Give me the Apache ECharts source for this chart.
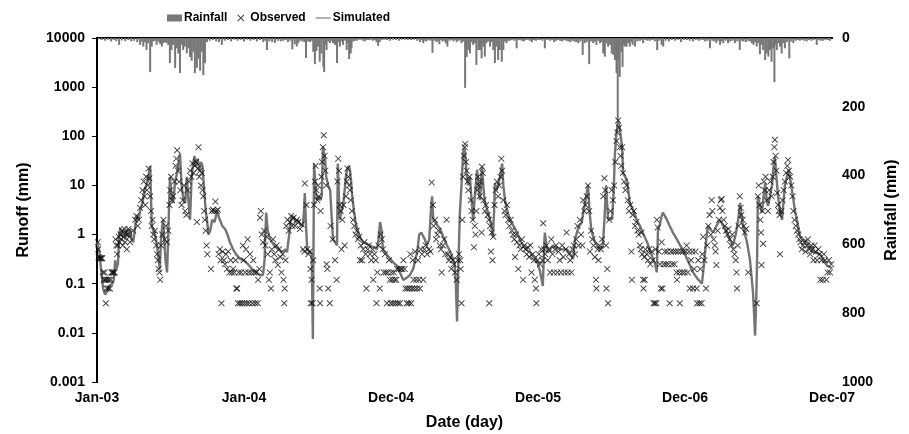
<!DOCTYPE html>
<html><head><meta charset="utf-8">
<script src="https://cdn.jsdelivr.net/npm/echarts/dist/echarts.min.js"></script>
<style>html,body{margin:0;padding:0;background:#fff}#c{width:909px;height:434px}</style>
</head><body><div id="c"></div>
<script>
const dateTickLabels = ['Jan-03','Jan-04','Dec-04','Dec-05','Dec-06','Dec-07'];
const runoffTicks = [0.001,0.01,0.1,1,10,100,1000,10000];
const runoffTickLabels = ['0.001','0.01','0.1','1','10','100','1000','10000'];
const rainTickLabels = ['0','200','400','600','800','1000'];
const seriesNames = ['Rainfall','Observed','Simulated'];

// [day index since 1 Jan 2003, rainfall mm]
const rainfall = [[5,4],[12,6],[20,8],[28,5],[35,10],[42,6],[48,9],[55,20],[62,7],[70,9],[78,6],[85,10],[92,8],[100,12],[107,20],[111,10],[115,25],[119,12],[123,35],[127,15],[132,99],[136,25],[140,10],[144,8],[148,20],[153,12],[157,18],[161,25],[165,15],[169,12],[173,15],[177,20],[181,73],[185,35],[189,20],[194,87],[198,30],[202,45],[206,102],[210,20],[214,35],[218,25],[223,45],[227,30],[231,55],[235,66],[239,40],[243,102],[248,87],[252,60],[256,95],[260,40],[264,108],[268,73],[273,12],[280,8],[288,6],[296,10],[303,12],[310,20],[317,8],[325,6],[333,10],[341,5],[349,8],[357,6],[365,10],[373,5],[381,8],[389,6],[397,10],[405,6],[413,12],[418,8],[422,35],[428,10],[435,12],[442,14],[449,8],[456,10],[462,8],[468,6],[474,12],[480,8],[485,33],[491,18],[496,25],[500,15],[505,8],[510,10],[515,12],[519,58],[524,10],[529,12],[533,8],[537,40],[541,76],[545,38],[549,25],[553,69],[557,45],[562,84],[564,99],[567,20],[570,35],[574,10],[578,15],[582,8],[586,15],[591,20],[596,73],[599,12],[603,25],[607,10],[611,20],[615,8],[620,35],[623,15],[626,61],[630,45],[632,30],[636,10],[640,8],[645,8],[650,5],[655,5],[660,8],[665,10],[670,6],[675,6],[680,5],[685,8],[690,6],[694,12],[698,23],[702,12],[708,6],[714,5],[720,6],[727,8],[735,5],[742,6],[750,8],[757,5],[765,5],[772,6],[780,6],[787,5],[795,8],[802,12],[806,6],[810,15],[814,8],[818,10],[824,6],[828,8],[833,43],[838,8],[843,12],[846,8],[850,18],[854,6],[858,10],[862,8],[866,15],[870,25],[875,8],[880,6],[885,10],[889,6],[893,12],[898,8],[902,6],[905,15],[909,10],[914,145],[918,55],[922,35],[926,45],[930,12],[934,20],[938,15],[942,78],[947,35],[951,35],[955,59],[959,25],[963,54],[967,15],[971,10],[976,25],[980,12],[984,35],[988,73],[992,25],[996,64],[1000,35],[1005,69],[1009,35],[1013,10],[1017,15],[1021,8],[1025,8],[1030,6],[1036,8],[1042,30],[1046,6],[1050,6],[1055,8],[1060,10],[1065,6],[1070,5],[1075,8],[1080,12],[1085,6],[1090,8],[1095,5],[1100,6],[1106,8],[1112,30],[1118,6],[1125,8],[1130,6],[1135,12],[1140,8],[1145,6],[1150,8],[1155,10],[1160,6],[1165,8],[1170,10],[1175,12],[1180,8],[1185,10],[1190,12],[1195,15],[1200,10],[1206,49],[1211,15],[1216,12],[1222,76],[1227,10],[1232,15],[1236,10],[1240,20],[1245,8],[1249,15],[1253,12],[1257,45],[1261,54],[1265,15],[1269,25],[1274,20],[1278,45],[1282,49],[1286,64],[1290,102],[1293,238],[1296,60],[1298,113],[1302,40],[1305,84],[1308,20],[1311,25],[1315,25],[1319,15],[1323,25],[1327,12],[1330,20],[1336,25],[1342,10],[1348,8],[1352,6],[1356,15],[1362,6],[1367,8],[1373,8],[1379,6],[1385,10],[1391,35],[1396,8],[1402,20],[1406,25],[1412,8],[1420,10],[1427,6],[1435,8],[1442,6],[1450,12],[1457,6],[1465,6],[1472,8],[1480,10],[1487,6],[1495,8],[1500,5],[1505,6],[1510,10],[1516,8],[1522,30],[1528,8],[1533,10],[1538,15],[1543,8],[1547,20],[1551,10],[1555,15],[1561,8],[1567,15],[1572,10],[1578,8],[1584,15],[1590,10],[1596,35],[1601,8],[1605,10],[1611,12],[1616,8],[1621,10],[1626,15],[1630,20],[1634,12],[1638,25],[1642,15],[1646,47],[1650,20],[1654,35],[1659,64],[1663,45],[1667,54],[1671,35],[1675,69],[1679,30],[1682,128],[1685,20],[1688,35],[1692,15],[1696,25],[1700,45],[1704,15],[1708,30],[1713,12],[1719,59],[1724,10],[1729,15],[1735,8],[1740,6],[1745,8],[1750,6],[1756,8],[1762,10],[1768,6],[1774,8],[1780,6],[1787,20],[1792,6],[1797,8],[1803,8],[1809,6],[1815,6],[1820,8]];

// [day, observed runoff mm]
const observed = [[2,0.7],[3,0.5],[4,0.35],[5,0.33],[7,0.33],[9,0.33],[11,0.33],[13,0.33],[15,0.17],[17,0.12],[19,0.17],[20,0.12],[22,0.04],[23,0.12],[24,0.08],[26,0.12],[28,0.08],[30,0.12],[32,0.08],[34,0.12],[36,0.17],[38,0.17],[40,0.17],[42,0.17],[44,0.17],[46,0.8],[48,0.6],[50,0.4],[52,0.6],[54,0.9],[56,0.7],[58,1.0],[60,0.8],[62,1.2],[64,0.6],[66,0.9],[68,1.3],[70,0.7],[72,1.1],[74,0.5],[76,1.0],[78,1.3],[80,0.9],[82,0.7],[90,1.2],[95,2.0],[98,2.4],[101,1.5],[104,2.0],[107,3.5],[110,5],[113,8],[116,12],[118,6],[120,4],[122,15],[124,8],[126,10],[128,22],[130,14],[132,6],[134,3],[136,1.5],[138,2.0],[140,1.0],[142,0.8],[144,1.2],[147,0.6],[149,0.4],[151,0.3],[153,0.2],[155,0.17],[157,0.12],[159,0.6],[162,1.0],[165,2.0],[168,0.8],[171,1.5],[174,0.7],[177,1.2],[180,4],[182,8],[184,15],[186,5],[189,6],[192,12],[195,25],[197,35],[199,52],[201,20],[204,12],[207,8],[210,4],[213,5],[216,10],[219,3],[222,2.5],[225,8],[228,12],[231,20],[234,15],[237,28],[240,18],[243,25],[246,30],[248,1.8],[250,22],[252,60],[254,15],[256,20],[258,10],[260,18],[262,8],[264,6],[266,3],[268,2],[270,1.2],[272,0.6],[274,0.4],[283,0.2],[285,3.0],[288,3.2],[291,3.0],[294,4.7],[297,3.0],[300,3.2],[302,0.4],[305,0.5],[307,0.3],[309,0.04],[312,0.45],[315,0.3],[318,0.25],[320,0.4],[323,0.2],[326,0.45],[329,0.17],[332,0.3],[335,0.17],[338,0.2],[341,0.17],[344,0.3],[346,0.08],[348,0.08],[350,0.04],[352,0.17],[355,0.04],[358,0.17],[360,0.04],[362,0.6],[364,0.3],[366,0.04],[368,0.17],[370,0.5],[372,0.04],[374,0.8],[376,0.17],[378,0.04],[380,0.4],[383,0.17],[386,0.04],[388,0.3],[390,0.17],[393,0.04],[396,0.17],[399,0.04],[400,0.12],[403,0.2],[405,2.2],[407,3.0],[409,1.0],[412,0.7],[415,1.2],[418,0.6],[421,0.9],[424,0.4],[427,0.12],[429,0.17],[432,0.08],[434,0.5],[437,0.8],[440,0.4],[443,0.3],[446,0.6],[449,0.24],[452,0.5],[455,0.35],[458,0.17],[461,0.4],[463,0.12],[465,0.04],[466,0.08],[468,0.3],[470,1.5],[473,2.0],[476,1.2],[479,1.8],[482,2.4],[485,1.5],[488,2.2],[492,1.5],[496,2.0],[500,1.8],[504,1.3],[508,1.6],[512,0.5],[515,0.45],[516,11],[520,4],[522,0.5],[525,0.4],[528,0.45],[530,0.2],[531,0.04],[533,0.12],[535,0.04],[537,0.3],[539,4],[541,12],[543,25],[545,8],[547,5],[549,10],[551,6],[553,0.08],[554,0.04],[555,3],[557,15],[559,30],[561,60],[563,105],[565,40],[567,20],[569,10],[570,0.25],[572,0.2],[574,0.08],[578,0.04],[580,1.5],[585,0.8],[591,0.3],[595,0.12],[597,12],[599,35],[601,20],[603,4],[605,3],[607,0.5],[609,2],[612,4],[615,0.6],[618,6],[620,12],[622,22],[624,15],[626,10],[628,8],[630,5],[633,3],[636,2],[639,1.5],[642,1.0],[645,1.2],[648,0.8],[651,0.9],[653,0.3],[655,0.6],[658,0.3],[661,0.5],[664,0.7],[667,0.4],[669,0.08],[672,0.5],[675,0.6],[678,0.4],[681,0.3],[684,0.5],[686,0.12],[689,0.4],[692,0.3],[694,0.04],[696,0.17],[699,0.6],[702,0.08],[704,1.0],[707,0.8],[710,0.5],[712,0.17],[715,0.4],[717,0.17],[720,0.04],[722,0.17],[725,0.3],[727,0.12],[729,0.04],[731,0.17],[733,0.12],[735,0.04],[737,0.17],[739,0.12],[741,0.04],[743,0.12],[745,0.2],[747,0.04],[750,0.2],[752,0.04],[755,0.2],[758,0.2],[761,0.3],[764,0.2],[766,0.08],[769,0.04],[771,0.08],[774,0.04],[776,0.08],[778,0.4],[780,0.04],[782,0.08],[784,0.3],[786,0.12],[788,0.08],[790,0.45],[793,0.12],[795,0.08],[797,0.3],[800,0.12],[802,0.08],[804,0.5],[807,0.4],[810,0.12],[813,0.5],[816,0.6],[820,0.4],[824,0.5],[828,0.45],[831,11.5],[834,4],[836,1.5],[839,2.0],[842,0.8],[845,1.0],[848,1.2],[851,0.6],[854,0.5],[856,0.17],[859,0.6],[862,0.8],[865,0.4],[868,2.0],[871,0.4],[874,0.3],[877,0.35],[880,0.2],[883,0.3],[886,0.25],[889,0.17],[893,0.12],[896,0.3],[899,0.4],[902,0.3],[903,0.2],[905,0.04],[907,2],[909,15],[911,40],[913,60],[914,70],[916,30],[918,20],[920,12],[922,8],[925,15],[928,5],[930,3],[933,2],[936,0.55],[938,1.5],[940,1.0],[942,3],[944,8],[946,15],[948,10],[950,6],[952,12],[955,1.1],[956,24],[958,18],[960,5],[963,3],[966,4],[970,2.5],[973,2],[974,0.04],[976,1.5],[978,0.45],[980,1.1],[982,0.3],[984,0.9],[987,4],[990,8],[993,12],[996,6],[999,10],[1002,15],[1004,35],[1006,20],[1009,5],[1012,3],[1015,2.5],[1018,4],[1021,2],[1024,1.5],[1027,2.0],[1030,1.2],[1033,1.0],[1036,0.8],[1038,0.35],[1040,1.0],[1043,0.7],[1046,0.2],[1049,0.6],[1052,0.5],[1055,0.8],[1058,0.12],[1061,0.6],[1064,0.5],[1067,0.4],[1070,0.55],[1073,0.35],[1076,0.6],[1079,0.17],[1082,0.4],[1085,0.3],[1087,0.12],[1090,0.08],[1091,0.04],[1094,0.3],[1097,0.4],[1100,0.25],[1103,0.5],[1106,0.3],[1108,1.7],[1110,0.5],[1113,0.4],[1116,0.6],[1119,0.3],[1122,0.5],[1125,0.17],[1128,0.8],[1131,0.4],[1134,0.17],[1137,0.5],[1140,0.6],[1143,0.17],[1146,0.45],[1149,0.3],[1152,0.17],[1155,0.6],[1158,0.35],[1161,0.17],[1164,0.5],[1166,1.1],[1169,0.17],[1172,0.4],[1175,0.3],[1178,0.17],[1181,0.5],[1184,0.6],[1187,0.4],[1190,0.8],[1193,1.5],[1196,0.6],[1199,2],[1202,1.0],[1205,0.6],[1207,5],[1210,3],[1213,4],[1216,6],[1219,10],[1222,3],[1224,0.45],[1227,1.2],[1230,0.8],[1233,0.6],[1236,0.35],[1239,0.12],[1240,0.08],[1243,0.5],[1245,0.3],[1248,0.6],[1251,0.5],[1254,0.8],[1257,6],[1260,14],[1262,8],[1264,0.6],[1265,0.08],[1267,0.2],[1269,0.04],[1272,2],[1275,3],[1278,8],[1281,5],[1284,10],[1287,30],[1290,80],[1292,120],[1294,210],[1296,150],[1298,60],[1300,40],[1302,25],[1304,60],[1306,18],[1309,12],[1312,8],[1315,10],[1318,5],[1321,3],[1324,4],[1327,0.45],[1328,0.12],[1330,2.5],[1333,3],[1336,1.5],[1339,1.8],[1342,1.2],[1345,1.0],[1348,0.6],[1350,0.5],[1352,1.1],[1354,0.4],[1356,0.12],[1357,0.08],[1359,0.35],[1360,0.12],[1362,0.5],[1365,0.4],[1368,0.3],[1371,0.5],[1374,0.25],[1377,0.45],[1380,0.3],[1382,0.04],[1385,0.04],[1387,0.5],[1389,0.04],[1390,2],[1392,1.4],[1395,0.45],[1398,0.25],[1400,0.08],[1402,0.7],[1404,0.08],[1407,0.25],[1410,0.45],[1413,0.25],[1416,0.45],[1419,0.25],[1422,0.04],[1425,0.45],[1428,0.25],[1431,0.45],[1434,0.25],[1437,0.45],[1439,0.17],[1440,0.12],[1443,0.45],[1446,0.17],[1447,0.04],[1450,0.45],[1453,0.17],[1456,0.45],[1459,0.17],[1462,0.45],[1464,0.6],[1467,0.17],[1470,0.45],[1472,0.08],[1475,0.3],[1478,0.45],[1480,0.08],[1483,0.2],[1486,0.45],[1489,0.08],[1490,0.04],[1493,0.3],[1496,0.04],[1498,0.2],[1501,0.04],[1503,0.4],[1505,0.9],[1508,0.3],[1512,0.08],[1515,0.6],[1518,1.5],[1521,2.5],[1524,1.0],[1526,5],[1528,3],[1531,0.8],[1534,0.6],[1536,0.45],[1538,0.24],[1541,1.2],[1544,2.0],[1547,3.5],[1549,5],[1551,5.3],[1553,3],[1556,2],[1559,1.5],[1562,1.2],[1565,1.0],[1568,1.3],[1571,0.8],[1574,0.6],[1577,1.0],[1580,0.5],[1583,0.4],[1586,0.3],[1588,0.17],[1589,0.08],[1591,0.6],[1593,1.5],[1596,6],[1598,3.5],[1600,2.5],[1603,2],[1606,1.5],[1609,1.1],[1612,1.3],[1617,0.17],[1638,0.04],[1641,6],[1643,10],[1645,4],[1647,2],[1649,1.1],[1650,0.24],[1652,3],[1654,0.65],[1656,12],[1658,8],[1660,15],[1663,5],[1666,3],[1669,8],[1672,12],[1675,6],[1678,15],[1680,30],[1682,60],[1683,85],[1685,40],[1687,20],[1689,7],[1691,4],[1693,3],[1695,2.5],[1696,0.4],[1699,3],[1702,5],[1705,8],[1708,12],[1711,18],[1714,25],[1716,33],[1718,20],[1721,15],[1724,10],[1727,6],[1729,3],[1732,2],[1735,1.5],[1738,1.2],[1741,1.0],[1744,0.8],[1747,0.7],[1750,0.5],[1753,0.6],[1756,0.7],[1759,0.45],[1762,0.6],[1765,0.8],[1768,0.5],[1771,0.4],[1774,0.6],[1777,0.5],[1779,0.3],[1782,0.6],[1785,0.45],[1788,0.3],[1791,0.5],[1794,0.4],[1796,0.12],[1799,0.3],[1802,0.12],[1805,0.4],[1808,0.3],[1811,0.12],[1814,0.17],[1817,0.3],[1820,0.17],[1823,0.25]];

// [day, simulated runoff mm]
const simulated = [[0,0.7],[5,0.5],[10,0.2],[15,0.08],[20,0.06],[25,0.07],[30,0.09],[38,0.1],[42,0.12],[45,0.3],[48,0.2],[52,0.25],[55,1.0],[58,1.4],[62,0.9],[66,1.2],[70,0.8],[74,1.3],[78,0.9],[82,1.3],[86,0.8],[90,0.7],[95,1.5],[99,2.5],[103,2.0],[107,3],[111,4],[114,5],[118,8],[122,10],[126,12],[129,18],[132,25],[134,6],[136,1.5],[140,1.2],[144,1.0],[149,0.6],[153,0.3],[156,0.2],[159,0.8],[162,1.5],[164,2],[167,0.8],[170,0.3],[174,0.17],[177,1.0],[181,15],[185,6],[189,4.4],[194,12],[199,18],[203,30],[206,45],[210,10],[215,5],[219,4.4],[223,15],[227,5],[231,2],[235,15],[238,25],[242,40],[246,25],[250,35],[254,20],[258,30],[262,25],[266,8],[270,3],[273,2],[277,1],[281,1.2],[286,2],[292,1.8],[298,3],[305,2],[311,1.5],[318,1.3],[324,1.0],[330,0.7],[338,0.5],[345,0.4],[355,0.32],[365,0.3],[375,0.25],[385,0.2],[395,0.17],[405,0.15],[412,0.15],[416,0.3],[420,2.8],[424,1.2],[430,0.8],[440,0.6],[450,0.5],[460,0.44],[468,0.5],[472,0.44],[477,1.0],[481,2],[487,2.4],[493,1.8],[499,2.0],[505,1.6],[511,1.5],[514,3],[516,7],[519,1.5],[522,0.5],[528,0.45],[533,0.4],[536,0.0075],[539,28],[543,8],[546,5],[550,6],[554,5],[558,6],[561,60],[564,45],[566,38],[569,15],[574,10],[579,8],[583,2],[586,0.8],[591,0.7],[596,0.6],[598,28],[601,5],[603,2],[607,3],[611,3.8],[615,8],[618,15],[621,21],[625,25],[628,21],[631,12],[633,7],[638,3],[642,1.8],[646,1.3],[653,0.9],[660,0.7],[670,0.65],[678,0.6],[688,0.55],[695,0.5],[699,0.8],[703,1.8],[706,1.3],[710,0.5],[719,0.4],[728,0.32],[736,0.27],[745,0.23],[752,0.17],[760,0.12],[768,0.13],[777,0.15],[785,0.2],[790,0.3],[795,0.44],[800,1.0],[805,1.1],[809,1.1],[814,0.8],[819,0.6],[825,0.8],[829,3],[832,6],[835,2],[840,1.8],[846,1.5],[852,1.3],[860,0.9],[869,0.6],[877,0.45],[884,0.32],[888,0.25],[891,0.1],[894,0.017],[897,0.2],[901,2.8],[905,10],[909,45],[912,58],[914,45],[917,20],[921,10],[926,15],[930,5],[934,2],[938,6],[944,21],[948,8],[951,5],[956,24],[960,8],[963,4.4],[970,3],[976,2],[980,1.3],[983,0.9],[986,3],[988,11],[992,8],[996,10],[1001,15],[1006,28],[1009,10],[1013,5],[1019,3],[1025,2],[1034,1.5],[1043,1.1],[1050,0.8],[1058,0.6],[1066,0.5],[1075,0.44],[1084,0.35],[1093,0.28],[1100,0.18],[1107,0.09],[1110,0.5],[1112,1.1],[1116,0.6],[1120,0.44],[1126,0.5],[1132,0.6],[1140,0.55],[1150,0.5],[1158,0.5],[1167,0.5],[1175,0.4],[1182,0.32],[1187,0.8],[1194,1.3],[1200,1.6],[1204,1.8],[1208,3],[1212,4.4],[1216,7],[1219,10],[1223,3],[1227,1.3],[1232,0.9],[1237,0.7],[1242,0.6],[1249,0.5],[1256,0.6],[1260,2],[1264,10],[1267,4],[1269,2],[1275,2.2],[1279,2],[1283,8],[1286,45],[1290,120],[1294,210],[1298,150],[1302,80],[1304,60],[1306,18],[1311,15],[1316,13],[1320,7],[1323,4.4],[1331,3.2],[1340,2],[1348,1.5],[1357,1.0],[1366,0.7],[1374,0.45],[1381,0.32],[1386,0.25],[1390,0.17],[1393,1.3],[1397,1.5],[1401,2.2],[1405,2.8],[1410,2.4],[1415,2],[1422,1.5],[1430,1.1],[1440,0.8],[1448,0.6],[1457,0.45],[1465,0.32],[1472,0.24],[1480,0.17],[1490,0.13],[1502,0.1],[1506,0.2],[1510,0.44],[1514,1.0],[1517,1.5],[1522,1.3],[1530,1.1],[1538,1.5],[1547,2],[1555,1.5],[1564,1.1],[1571,0.8],[1579,0.6],[1586,1.0],[1592,2],[1597,4.4],[1600,2.5],[1604,1.5],[1609,1.0],[1614,0.7],[1621,0.32],[1626,0.12],[1629,0.064],[1632,0.02],[1634,0.0088],[1637,0.05],[1639,0.32],[1641,6],[1646,4],[1651,2.8],[1655,6],[1659,11],[1663,5],[1666,3.8],[1671,6],[1676,10],[1680,25],[1683,38],[1687,15],[1691,6],[1696,3],[1701,2],[1705,5],[1708,10],[1713,15],[1718,21],[1722,12],[1728,6],[1733,3],[1738,2],[1742,1.3],[1746,0.9],[1754,0.8],[1763,0.7],[1770,0.55],[1778,0.44],[1787,0.42],[1795,0.4],[1804,0.3],[1813,0.23],[1820,0.22],[1825,0.2]];

const FONT = "'Liberation Sans',Arial,sans-serif";
const axisText = {color:'#000', fontFamily:FONT, fontWeight:'bold', fontSize:14};
const blackLine = {show:true, lineStyle:{color:'#000', width:2}};
const xPath = 'path://M0,1L1,0L5,4L9,0L10,1L6,5L10,9L9,10L5,6L1,10L0,9L4,5Z';
const linePath = 'path://M0,0L40,0L40,3L0,3Z';

const chart = echarts.init(document.getElementById('c'), null, {renderer:'canvas'});
chart.setOption({
  animation:false,
  backgroundColor:'#fff',
  grid:{left:97, right:77, top:38, bottom:52, containLabel:false, outerBoundsMode:'none'},
  legend:{
    top:7, left:162, itemGap:10, itemWidth:15, itemHeight:7,
    textStyle:{color:'#000', fontFamily:FONT, fontWeight:'bold', fontSize:12, padding:[0,0,0,-3]},
    data:[
      {name:seriesNames[0], icon:'rect'},
      {name:seriesNames[1], icon:xPath},
      {name:seriesNames[2], icon:linePath}
    ]
  },
  xAxis:[{
    type:'value', min:0, max:1825, interval:365, position:'bottom',
    axisLine:blackLine, axisTick:{show:false}, splitLine:{show:false},
    axisLabel:Object.assign({margin:9, formatter:v=>dateTickLabels[Math.round(v/365)]}, axisText),
    name:'Date (day)', nameLocation:'middle', nameGap:33,
    nameTextStyle:{color:'#000', fontFamily:FONT, fontWeight:'bold', fontSize:16}
  },{
    type:'value', min:0, max:1825, position:'top',
    axisLine:blackLine, axisTick:{show:false}, axisLabel:{show:false}, splitLine:{show:false}
  }],
  yAxis:[{
    type:'log', logBase:10, min:0.001, max:10000, interval:1, position:'left',
    axisLine:blackLine,
    axisTick:{show:true, inside:false, length:5, customValues:runoffTicks, lineStyle:{color:'#000', width:1}},
    minorTick:{show:false}, splitLine:{show:false},
    axisLabel:Object.assign({margin:12, customValues:runoffTicks, formatter:v=>runoffTickLabels[Math.round(Math.log10(v))+3]}, axisText),
    name:'Runoff (mm)', nameLocation:'middle', nameGap:65, nameRotate:90,
    nameTextStyle:{color:'#000', fontFamily:FONT, fontWeight:'bold', fontSize:16}
  },{
    type:'value', min:0, max:1000, interval:200, inverse:true, position:'right', alignTicks:false,
    axisLine:blackLine, axisTick:{show:false},
    splitLine:{show:false},
    axisLabel:Object.assign({margin:10, formatter:v=>rainTickLabels[Math.round(v/200)]}, axisText),
    name:'Rainfall (mm)', nameLocation:'middle', nameGap:51, nameRotate:90,
    nameTextStyle:{color:'#000', fontFamily:FONT, fontWeight:'bold', fontSize:16}
  }],
  series:[
    {name:seriesNames[0], type:'bar', xAxisIndex:0, yAxisIndex:1, data:rainfall, barWidth:2,
     itemStyle:{color:'#777777'}, z:1},
    {name:seriesNames[2], type:'line', xAxisIndex:0, yAxisIndex:0, data:simulated, symbol:'none',
     lineStyle:{color:'#747474', width:2.4}, itemStyle:{color:'#747474'}, z:2},
    {name:seriesNames[1], type:'scatter', xAxisIndex:0, yAxisIndex:0, data:observed, symbol:xPath,
     symbolSize:6.5, itemStyle:{color:'#111'}, z:3}
  ]
});
</script>
</body></html>
